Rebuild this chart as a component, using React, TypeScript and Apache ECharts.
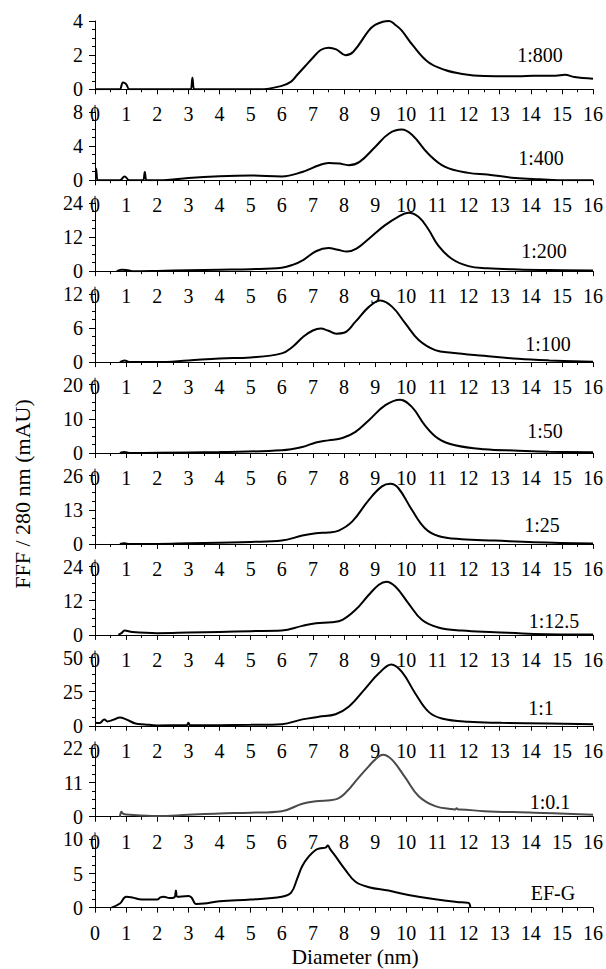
import React, { useEffect, useRef } from "react";
import * as echarts from "echarts";

const seriesNames = ["1:800", "1:400", "1:200", "1:100", "1:50", "1:25", "1:12.5", "1:1", "1:0.1", "EF-G"];
const yMaxes = [4, 8, 24, 12, 20, 26, 24, 50, 22, 10];
const xTickLabels = ["0", "1", "2", "3", "4", "5", "6", "7", "8", "9", "10", "11", "12", "13", "14", "15", "16"];

const d800X = [0, 0.75, 0.8, 0.9, 1.0, 1.1, 1.15, 3.04, 3.08, 3.13, 3.18, 3.22, 5.3, 6.0, 6.3, 6.5, 6.75, 7.0, 7.25, 7.5, 7.75, 8.05, 8.3, 8.8, 9.0, 9.25, 9.45, 9.65, 9.85, 10.2, 10.7, 11.25, 11.8, 12.5, 13.6, 14.1, 14.8, 15.1, 15.4, 16];
const d800Y = [0, 0, 0, 0.4, 0.3, 0, 0, 0, 0, 0.68, 0, 0, 0, 0.2, 0.45, 0.85, 1.35, 1.85, 2.3, 2.44, 2.34, 2.0, 2.2, 3.45, 3.77, 3.96, 4.0, 3.77, 3.45, 2.6, 1.6, 1.13, 0.9, 0.78, 0.76, 0.8, 0.8, 0.85, 0.72, 0.62];

const d400X = [0, 0.03, 0.08, 0.12, 0.8, 0.95, 1.1, 1.15, 1.5, 1.55, 1.6, 1.65, 1.7, 2.2, 3, 4, 5, 6, 6.66, 7.2, 7.5, 7.85, 8.15, 8.5, 9.0, 9.45, 9.85, 10.2, 10.7, 11.25, 12.0, 12.6, 13.5, 14.3, 15.1, 16];
const d400Y = [1.37, 1.37, 0, 0, 0, 0.45, 0, 0, 0, 0, 0.97, 0, 0, 0, 0.27, 0.47, 0.55, 0.45, 0.97, 1.76, 2.03, 1.95, 1.76, 2.15, 3.9, 5.47, 5.93, 5.27, 3.12, 1.56, 0.86, 0.66, 0.27, 0.12, 0, 0];

const d200X = [0.7, 0.85, 1.0, 1.2, 2, 3, 4, 5, 6, 6.35, 6.7, 7.1, 7.5, 7.8, 8.1, 8.4, 8.8, 9.3, 9.75, 10.07, 10.4, 10.7, 11.03, 11.46, 12.0, 12.6, 13.6, 14.6, 16];
const d200Y = [0, 0.5, 0.45, 0, 0.1, 0.3, 0.5, 0.7, 1.2, 2.2, 4.0, 7.0, 8.1, 7.5, 6.9, 7.9, 11.4, 16.0, 19.2, 20.5, 19.0, 14.9, 9.0, 4.35, 1.76, 1.05, 0.6, 0.4, 0.2];

const d100X = [0.8, 0.95, 1.1, 2, 3, 4, 5, 6, 6.35, 6.7, 7.0, 7.25, 7.5, 7.75, 8.0, 8.37, 8.8, 9.17, 9.55, 9.97, 10.4, 10.93, 11.46, 12.5, 13.6, 14.6, 16];
const d100Y = [0, 0.3, 0, 0, 0.3, 0.65, 0.82, 1.53, 2.7, 4.5, 5.55, 5.9, 5.5, 5.0, 5.15, 7.1, 9.7, 10.8, 9.7, 6.8, 3.87, 2.1, 1.64, 1.1, 0.58, 0.3, 0.05];

const d50X = [0.8, 0.95, 1.1, 2, 4, 6, 6.66, 7.1, 7.5, 7.95, 8.37, 8.8, 9.33, 9.8, 10.18, 10.6, 11.03, 11.57, 12.5, 13.6, 14.6, 16];
const d50Y = [0, 0.3, 0, 0.05, 0.3, 0.8, 1.76, 3.1, 3.7, 4.4, 6.2, 9.6, 14.0, 15.6, 13.5, 8.1, 4.2, 2.25, 1.1, 0.7, 0.4, 0.2];

const d25X = [0.8, 0.95, 1.1, 2, 3, 4, 5, 6, 6.66, 7.1, 7.5, 7.83, 8.26, 8.8, 9.22, 9.49, 9.75, 10.18, 10.6, 11.03, 11.78, 12.85, 14.1, 16];
const d25Y = [0, 0.25, 0, 0, 0.25, 0.5, 0.76, 1.27, 3.2, 4.1, 4.4, 5.1, 8.5, 16.8, 21.9, 22.9, 21.2, 13.0, 6.0, 3.05, 1.8, 1.27, 0.64, 0.2];

const d12X = [0.75, 0.85, 0.95, 1.2, 2, 3, 4, 5, 6, 6.66, 7.1, 7.6, 7.95, 8.37, 8.8, 9.12, 9.36, 9.65, 10.07, 10.5, 11.03, 11.78, 12.85, 14.1, 16];
const d12Y = [0, 0.6, 1.5, 1.0, 0.6, 0.8, 1.05, 1.3, 1.5, 3.16, 4.1, 4.45, 5.3, 8.8, 14.1, 17.6, 18.7, 17.0, 11.1, 5.3, 2.6, 1.5, 0.94, 0.35, 0.1];

const d1X = [0, 0.15, 0.3, 0.4, 0.6, 0.8, 1.0, 1.3, 1.6, 2.0, 2.9, 2.95, 3.0, 3.05, 3.1, 4, 5, 6, 6.66, 7.19, 7.73, 8.15, 8.69, 9.12, 9.52, 9.86, 10.29, 10.72, 11.14, 12.0, 13.06, 14.6, 16];
const d1Y = [2.2, 2.0, 4.7, 3.2, 4.5, 6.1, 4.7, 1.7, 1.0, 0.3, 0.4, 0.4, 2.2, 0.4, 0.4, 0.5, 0.7, 1.2, 4.7, 6.6, 8.5, 13.9, 27.4, 38.4, 44.9, 39.5, 23.7, 10.2, 5.4, 2.9, 2.2, 1.7, 1.2];

const d01X = [0.8, 0.85, 0.9, 1.0, 2, 3, 4, 5, 6, 6.66, 7.09, 7.73, 8.05, 8.47, 8.8, 9.0, 9.25, 9.54, 9.97, 10.4, 10.93, 11.52, 11.57, 11.62, 11.67, 11.72, 12.5, 14.1, 16];
const d01Y = [0, 1.6, 1.0, 0.74, 0.2, 0.64, 1.06, 1.3, 1.8, 4.2, 5.0, 5.6, 7.7, 12.6, 16.3, 18.4, 20.0, 18.4, 12.6, 6.6, 3.4, 2.4, 2.35, 2.7, 2.3, 2.3, 1.8, 1.3, 0.64];

const dEfgX = [0.53, 0.8, 1.0, 1.2, 1.5, 2.0, 2.1, 2.2, 2.4, 2.55, 2.6, 2.65, 3.0, 3.1, 3.25, 3.5, 4, 5, 6, 6.3, 6.5, 6.66, 6.87, 7.09, 7.25, 7.41, 7.48, 7.55, 7.73, 8.05, 8.37, 8.8, 9.43, 10.07, 10.93, 11.78, 12.0, 12.06];
const dEfgY = [0, 0.6, 1.6, 1.5, 1.2, 1.2, 1.5, 1.6, 1.4, 1.5, 2.5, 1.6, 1.7, 1.5, 0.54, 0.6, 0.94, 1.2, 1.6, 2.2, 4.3, 6.1, 7.5, 8.45, 8.7, 8.8, 9.1, 8.6, 7.5, 5.5, 3.8, 3.0, 2.5, 1.86, 1.23, 0.78, 0.7, 0];

const allX = [d800X, d400X, d200X, d100X, d50X, d25X, d12X, d1X, d01X, dEfgX];
const allY = [d800Y, d400Y, d200Y, d100Y, d50Y, d25Y, d12Y, d1Y, d01Y, dEfgY];

const FONT = "Liberation Serif";

export default function App() {
  const ref = useRef<HTMLDivElement>(null);
  useEffect(() => {
    if (!ref.current) return;
    const chart = echarts.init(ref.current, null, { renderer: "svg" });
    const zero0 = 89.3;
    const step = 90.93;
    const h = 68.3;
    const left = 95;
    const right = 11.3;
    const grids: any[] = [];
    const xAxes: any[] = [];
    const yAxes: any[] = [];
    const series: any[] = [];
    const graphics: any[] = [];
    const labelDy = [-34, -22, -20, -18, -22, -19, -14, -18, -15, -15];
    const labelX = [540, 541, 544, 548, 545, 542, 554, 541, 550, 553];
    seriesNames.forEach((name, i) => {
      const zero = zero0 + step * i;
      grids.push({ left, right, top: zero - h, height: h, containLabel: false });
      xAxes.push({
        type: "value",
        gridIndex: i,
        min: 0,
        max: 16,
        interval: 1,
        axisLine: { show: true, onZero: false, lineStyle: { color: "#000", width: 1 } },
        axisTick: { show: true, length: 5, lineStyle: { color: "#000" } },
        minorTick: { show: true, splitNumber: 2, length: 3, lineStyle: { color: "#000" } },
        splitLine: { show: false },
        axisLabel: {
          fontFamily: FONT,
          fontSize: 20,
          color: "#000",
          margin: 15,
          formatter: (v: number) => xTickLabels[Math.round(v)] ?? "",
        },
      });
      yAxes.push({
        type: "value",
        gridIndex: i,
        min: 0,
        max: yMaxes[i],
        interval: yMaxes[i] / 2,
        axisLine: { show: true, lineStyle: { color: "#000", width: 1 } },
        axisTick: { show: true, length: 6, lineStyle: { color: "#000" } },
        minorTick: { show: true, splitNumber: 4, length: 3, lineStyle: { color: "#000" } },
        splitLine: { show: false },
        axisLabel: { fontFamily: FONT, fontSize: 20, color: "#000", margin: 12 },
      });
      series.push({
        type: "line",
        name,
        xAxisIndex: i,
        yAxisIndex: i,
        data: allX[i].map((x, k) => [x, allY[i][k]]),
        showSymbol: false,
        smooth: 0.4,
        lineStyle: { color: i === 8 ? "#4a4a4a" : "#000", width: 2 },
      });
      graphics.push({
        type: "text",
        x: labelX[i],
        y: zero + labelDy[i],
        style: {
          text: name,
          fontFamily: FONT,
          fontSize: 20,
          fill: "#000",
          align: "center",
          verticalAlign: "middle",
        },
      });
      if (i > 0) {
        graphics.push({
          type: "line",
          shape: { x1: left, y1: zero - h - 7, x2: left, y2: zero - h },
          style: { stroke: "#000", lineWidth: 1 },
        });
      }
    });
    graphics.push({
      type: "text",
      x: 22,
      y: 494,
      rotation: Math.PI / 2,
      style: {
        text: "FFF / 280 nm (mAU)",
        fontFamily: FONT,
        fontSize: 22,
        fill: "#000",
        align: "center",
        verticalAlign: "middle",
      },
    });
    graphics.push({
      type: "text",
      x: 355,
      y: 957,
      style: {
        text: "Diameter (nm)",
        fontFamily: FONT,
        fontSize: 21.5,
        fill: "#000",
        align: "center",
        verticalAlign: "middle",
      },
    });
    chart.setOption({
      animation: false,
      backgroundColor: "#fff",
      grid: grids,
      xAxis: xAxes,
      yAxis: yAxes,
      series,
      graphic: graphics,
    });
    return () => chart.dispose();
  }, []);
  return (
    <div
      ref={ref}
      style={{ position: "fixed", left: 0, top: 0, width: 606, height: 969 }}
    />
  );
}
